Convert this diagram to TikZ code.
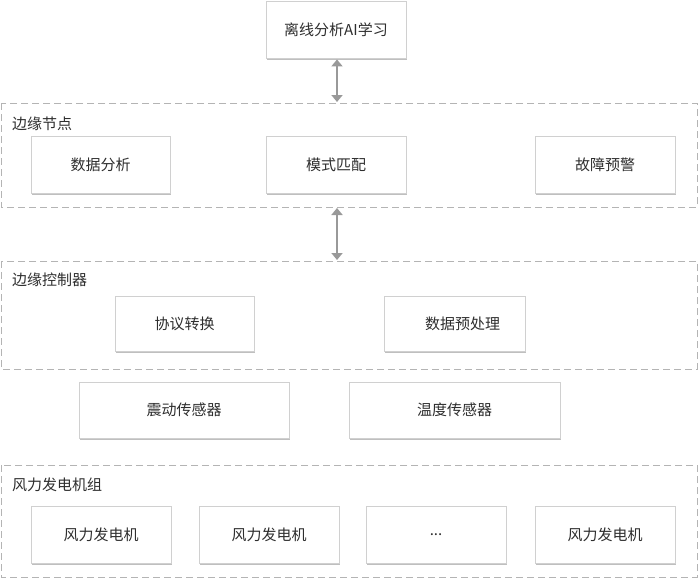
\documentclass[tikz,border=0pt]{standalone}
\usepackage{fontspec}
\setmainfont{Noto Sans CJK SC}
\usetikzlibrary{arrows.meta,shadows}
\definecolor{txt}{HTML}{2E2E2E}
\definecolor{bx}{HTML}{D0D0D0}
\definecolor{dsh}{HTML}{B4B4B4}
\definecolor{arr}{HTML}{999999}
\tikzset{
  box/.style={draw=bx, line width=0.9pt, fill=white, text=txt, font=\fontsize{15}{18}\selectfont,
    drop shadow={shadow xshift=1.2pt, shadow yshift=-1.6pt, fill=black!25, opacity=1}},
  grp/.style={draw=dsh, line width=1pt, dash pattern=on 7pt off 4pt},
  glabel/.style={text=txt, font=\fontsize{15}{18}\selectfont, anchor=west, inner sep=0pt},
  link/.style={draw=arr, line width=2pt, {Triangle[width=11pt,length=7pt]}-{Triangle[width=11pt,length=7pt]}, shorten <=1pt, shorten >=1pt, color=arr}
}
\begin{document}
\begin{tikzpicture}[x=1pt,y=-1pt]
\useasboundingbox (0,0) rectangle (700,578);
\fill[white] (0,0) rectangle (700,578);
% groups
\draw[grp] (1,103) rectangle (697,207);
\draw[grp] (1,261) rectangle (697,369);
\draw[grp] (1,465) rectangle (697,577);
\node[glabel] (l1) at (12,124) {边缘节点};
\node[glabel] (l2) at (12,280) {边缘控制器};
\node[glabel] (l3) at (12,485) {风力发电机组};
% coordinates on group borders
\coordinate (g1t) at (337,103);
\coordinate (g1b) at (337,207);
\coordinate (g2t) at (337,261);
% boxes
\newcommand{\bx}[6]{\node[box, minimum width=#4-#2, minimum height=#5-#3, inner sep=0pt] (#1) at ({(#2+#4)/2},{(#3+#5)/2}) {#6};}
\bx{ai}{266}{1}{406}{58}{离线分析AI学习}
\bx{sjfx}{31}{136}{170}{193}{数据分析}
\bx{msfp}{266}{136}{406}{193}{模式匹配}
\bx{gzyj}{535}{136}{675}{193}{故障预警}
\bx{xyzh}{115}{296}{254}{351}{协议转换}
\bx{sjycl}{384}{296}{525}{351}{\hspace{16pt}数据预处理}
\bx{zdcg}{79}{382}{289}{438}{震动传感器}
\bx{wdcg}{349}{382}{560}{438}{温度传感器}
\bx{fj1}{31}{506}{171}{563}{风力发电机}
\bx{fj2}{199}{506}{339}{563}{风力发电机}
\bx{fj3}{366}{506}{506}{563}{...}
\bx{fj4}{535}{506}{675}{563}{风力发电机}
% links
\draw[link] (ai.south -| g1t) -- (g1t);
\draw[link] (g1b) -- (g2t);
\end{tikzpicture}
\end{document}
